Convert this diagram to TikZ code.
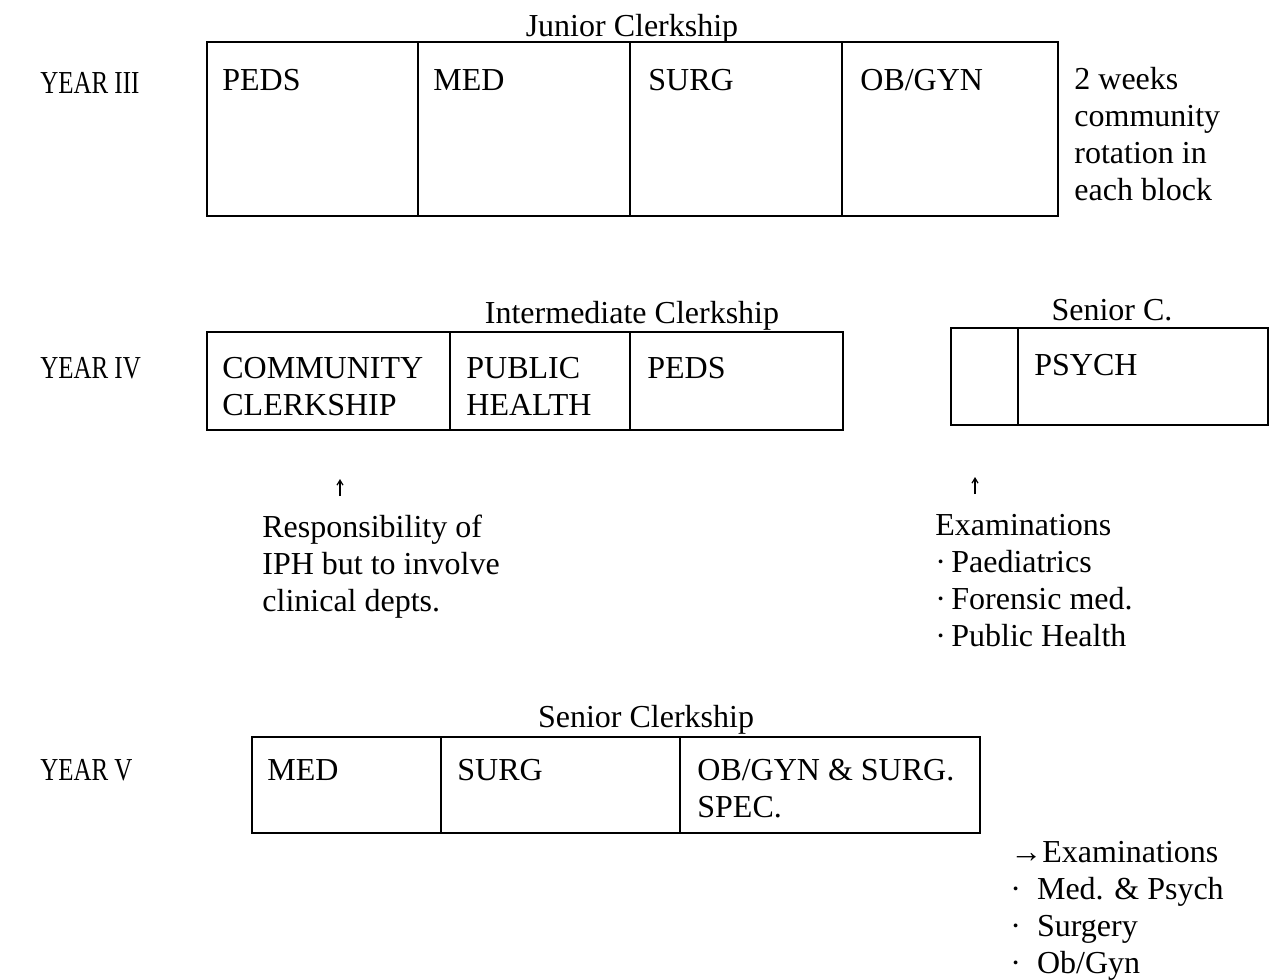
\documentclass[tikz,border=0pt]{standalone}
\usepackage{fontspec}
\setmainfont{Liberation Serif}
\usetikzlibrary{arrows.meta}

\begin{document}
\begin{tikzpicture}[x=0.5pt, y=-0.5pt,
    box/.style={draw, line width=0.9pt},
    lbl/.style={anchor=base west, inner sep=0pt, font=\fontsize{16}{18.5}\selectfont},
    year/.style={lbl, transform shape, xscale=0.78},
    para/.style={anchor=north west, inner sep=0pt, align=left, font=\fontsize{16}{18.5}\selectfont},
    ttl/.style={anchor=base, inner sep=0pt, font=\fontsize{16}{18.5}\selectfont},
    arrow/.style={-{Straight Barb[length=2.5pt,width=3pt]}, line width=0.6pt}
]
    \useasboundingbox (0,0) rectangle (1276,980);

    % Year III
    \foreach \a/\b in {207/418, 418/630, 630/842, 842/1058}
        \draw[box] (\a,42) rectangle (\b,216);
    \node[ttl] (junior) at (632,36) {Junior Clerkship};
    \node[year] (y3) at (40,93) {YEAR III};
    \node[lbl] (peds3) at (222,90) {PEDS};
    \node[lbl] (med3) at (433,90) {MED};
    \node[lbl] (surg3) at (648,90) {SURG};
    \node[lbl] (obgyn3) at (860,90) {OB/GYN};
    \node[para] (note3) at (1074,67) {2 weeks\\community\\rotation in\\each block};

    % Year IV
    \foreach \a/\b in {207/450, 450/630, 630/843}
        \draw[box] (\a,332) rectangle (\b,430);
    \foreach \a/\b in {951/1018, 1018/1268}
        \draw[box] (\a,328) rectangle (\b,425);
    \node[ttl] (inter) at (632,323) {Intermediate Clerkship};
    \node[ttl] (seniorc) at (1112,320) {Senior C.};
    \node[year] (y4) at (40,378) {YEAR IV};
    \node[para] (comm) at (222,357) {COMMUNITY\\CLERKSHIP};
    \node[para] (pub) at (466,357) {PUBLIC\\HEALTH};
    \node[lbl] (peds4) at (647,378) {PEDS};
    \node[lbl] (psych) at (1034,375) {PSYCH};

    \node[para] (resp) at (262,515) {Responsibility of\\IPH but to involve\\clinical depts.};
    \node[para] (exam4) at (935,514) {Examinations\\·\,Paediatrics\\·\,Forensic med.\\·\,Public Health};
    \coordinate (r1) at (340,496);
    \coordinate (r2) at (340,479);
    \coordinate (e1) at (975,494);
    \coordinate (e2) at (975,477);
    \draw[arrow] (r1) -- (r2);
    \draw[arrow] (e1) -- (e2);

    % Year V
    \foreach \a/\b in {252/441, 441/680, 680/980}
        \draw[box] (\a,737) rectangle (\b,833);
    \node[ttl] (senior) at (646,727) {Senior Clerkship};
    \node[year] (y5) at (40,780) {YEAR V};
    \node[lbl] (med5) at (267,780) {MED};
    \node[lbl] (surg5) at (457,780) {SURG};
    \node[para] (spec) at (697,759) {OB/GYN \& SURG.\\SPEC.};
    \node[para] (exam5) at (1010,841) {→Examinations\\·\enspace Med. \& Psych\\·\enspace Surgery\\·\enspace Ob/Gyn};
\end{tikzpicture}
\end{document}
